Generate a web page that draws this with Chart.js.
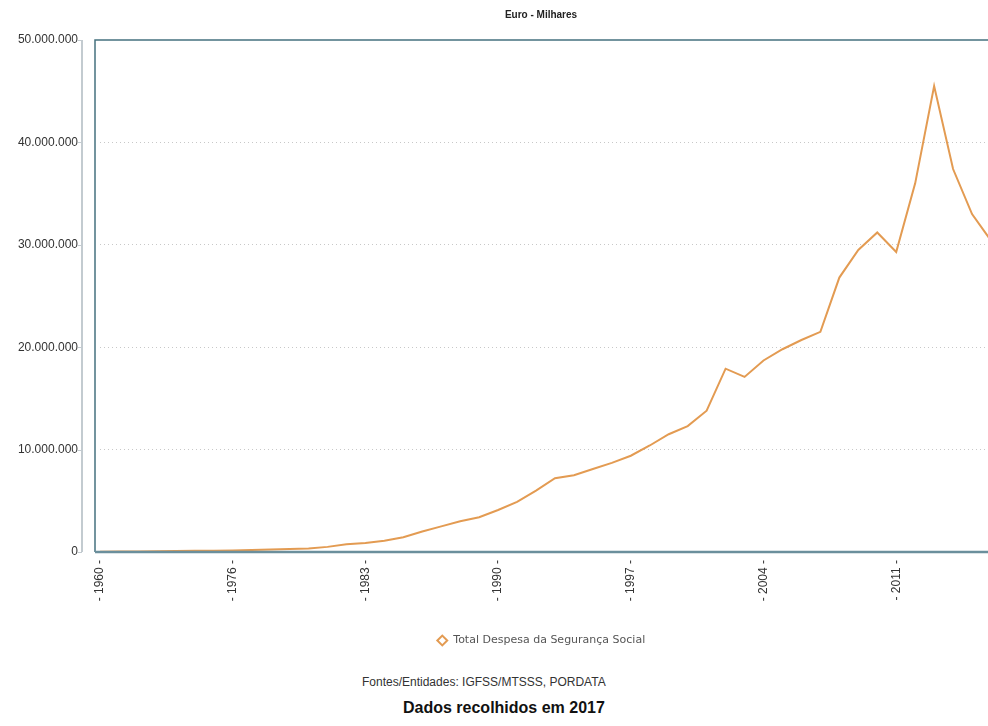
<!DOCTYPE html>
<html>
<head>
<meta charset="utf-8">
<script src="https://cdn.jsdelivr.net/npm/chart.js@4/dist/chart.umd.min.js"></script>
<style>
  body { margin:0; overflow:hidden; background:#fff; }
  #wrap { position:absolute; left:0; top:0; width:1082px; height:656px; }
  .fonte { position:absolute; left:362px; top:675px; font:12px "Liberation Sans", Arial, sans-serif; color:#333; white-space:nowrap; }
  .dados { position:absolute; left:403px; top:699px; font:bold 16px "Liberation Sans", Arial, sans-serif; color:#111; white-space:nowrap; }
</style>
</head>
<body>
<div id="wrap"><canvas id="mycanvas" width="1082" height="656"></canvas></div>
<div class="fonte">Fontes/Entidades: IGFSS/MTSSS, PORDATA</div>
<div class="dados">Dados recolhidos em 2017</div>
<script>
// anos (1960 e depois 1970-2016)
var anos = ['1960','1970','1971','1972','1973','1974','1975','1976','1977','1978','1979',
            '1980','1981','1982','1983','1984','1985','1986','1987','1988','1989',
            '1990','1991','1992','1993','1994','1995','1996','1997','1998','1999',
            '2000','2001','2002','2003','2004','2005','2006','2007','2008','2009',
            '2010','2011','2012','2013','2014','2015','2016'];

// Total Despesa da Seguranca Social (Euro - Milhares)
var despesa = [20000, 50000, 60000, 70000, 90000, 110000, 130000, 150000, 200000, 250000, 300000,
               350000, 500000, 750000, 880000, 1100000, 1450000, 2000000, 2500000, 3000000, 3400000,
               4100000, 4900000, 6000000, 7200000, 7500000, 8100000, 8700000, 9400000, 10400000, 11500000,
               12300000, 13800000, 17900000, 17100000, 18700000, 19800000, 20700000, 21500000, 26800000, 29500000,
               31200000, 29300000, 36000000, 45500000, 37400000, 33000000, 30400000];

var yTicks = [0, 10000000, 20000000, 30000000, 40000000, 50000000];

function fmt(v) {
    return String(v).replace(/\B(?=(\d{3})+(?!\d))/g, '.');
}

// moldura da area do grafico + linha do eixo y
var moldura = {
    id: 'moldura',
    afterDraw: function(chart) {
        var a = chart.chartArea;
        var ctx = chart.ctx;
        var y = chart.scales.y;
        var left = a.left - 5;
        ctx.save();
        // eixo cinzento
        ctx.strokeStyle = '#c3cbd0';
        ctx.lineWidth = 2;
        ctx.beginPath();
        ctx.moveTo(left - 13, a.top);
        ctx.lineTo(left - 13, a.bottom);
        ctx.stroke();
        ctx.lineWidth = 1;
        for (var i = 0; i < yTicks.length; i++) {
            var py = Math.round(y.getPixelForValue(yTicks[i])) + 0.5;
            ctx.beginPath();
            ctx.moveTo(left - 17, py);
            ctx.lineTo(left - 13, py);
            ctx.stroke();
        }
        // moldura
        ctx.strokeStyle = '#45717f';
        ctx.lineWidth = 1.5;
        ctx.beginPath();
        ctx.moveTo(left, a.bottom);
        ctx.lineTo(left, a.top);
        ctx.lineTo(chart.width, a.top);
        ctx.stroke();
        ctx.strokeStyle = '#6b8f9c';
        ctx.lineWidth = 2.5;
        ctx.beginPath();
        ctx.moveTo(left, a.bottom);
        ctx.lineTo(chart.width, a.bottom);
        ctx.stroke();
        ctx.restore();
    }
};

var chartdata = {
    labels: anos,
    datasets: [
        {
            label: 'Total Despesa da Segurança Social',
            data: despesa,
            fill: false,
            tension: 0,
            borderColor: '#e39b52',
            backgroundColor: '#ffffff',
            borderWidth: 2,
            pointRadius: 0,
            pointHoverRadius: 0,
            pointStyle: 'rectRot'
        }
    ]
};

var ctx = document.getElementById('mycanvas');

var LineGraph = new Chart(ctx, {
    type: 'line',
    data: chartdata,
    plugins: [moldura],
    options: {
        responsive: false,
        animation: false,
        layout: { padding: { left: 0, right: 0, top: 0, bottom: 0 } },
        plugins: {
            title: {
                display: true,
                text: 'Euro - Milhares',
                color: '#222',
                font: { family: '"Liberation Sans", Arial, sans-serif', size: 10, weight: 'bold' },
                padding: { top: 9, bottom: 19 }
            },
            legend: {
                position: 'bottom',
                labels: {
                    usePointStyle: true,
                    boxHeight: 7,
                    color: '#555',
                    padding: 10,
                    font: { family: '"DejaVu Sans", Verdana, sans-serif', size: 11 }
                }
            },
            tooltip: { enabled: false }
        },
        scales: {
            x: {
                type: 'category',
                offset: false,
                grid: { display: false, drawTicks: false },
                border: { display: false },
                afterFit: function(scale) { scale.height = 73; },
                ticks: {
                    autoSkip: false,
                    minRotation: 90,
                    maxRotation: 90,
                    padding: 8,
                    color: '#333',
                    font: { family: '"Liberation Sans", Arial, sans-serif', size: 12 },
                    callback: function(val, index) {
                        return index % 7 === 0 ? '- ' + this.getLabelForValue(val) + ' -' : '';
                    }
                }
            },
            y: {
                min: 0,
                max: 50000000,
                afterFit: function(scale) { scale.width = 100; },
                afterBuildTicks: function(scale) {
                    scale.ticks = yTicks.map(function(v) { return { value: v }; });
                },
                grid: {
                    color: function(c) { return (c.tick.value === 0 || c.tick.value === 50000000) ? 'rgba(0,0,0,0)' : '#c8c8c8'; },
                    drawTicks: false,
                    lineWidth: 1
                },
                border: { display: false, dash: [1, 3] },
                ticks: {
                    padding: 22,
                    color: '#333',
                    font: { family: '"Liberation Sans", Arial, sans-serif', size: 12 },
                    callback: function(v) { return fmt(v); }
                }
            },
            // eixo vazio a direita (parte cortada do grafico original)
            yDir: {
                type: 'linear',
                position: 'right',
                min: 0,
                max: 50000000,
                afterFit: function(scale) { scale.width = 91; },
                grid: { display: false, drawTicks: false },
                border: { display: false },
                ticks: { display: false }
            }
        }
    }
});
</script>
</body>
</html>
